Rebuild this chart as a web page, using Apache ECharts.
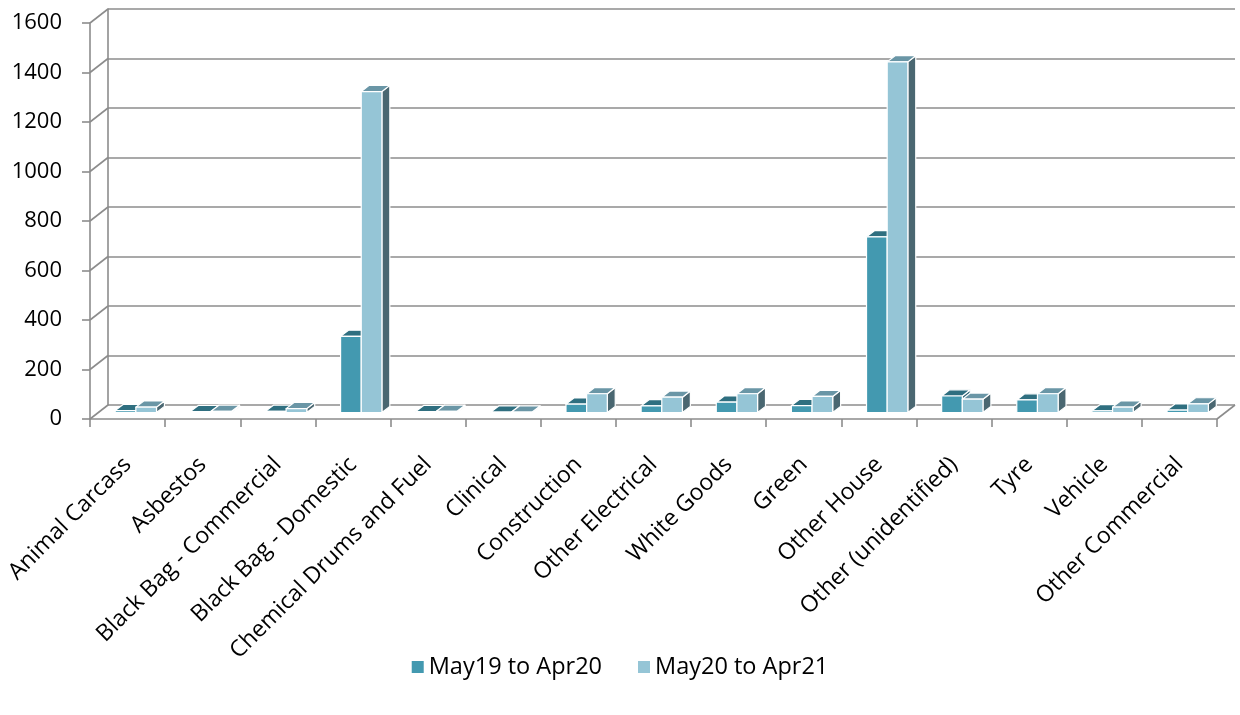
<!DOCTYPE html>
<html>
<head>
<meta charset="utf-8">
<script src="https://cdn.jsdelivr.net/npm/echarts@6/dist/echarts.min.js"></script>
<style>
  html, body { margin: 0; padding: 0; background: #ffffff; }
  #chart { width: 1240px; height: 715px; }
</style>
</head>
<body>
<div id="chart"></div>
<script>
// Fly-tipping incidents by waste type, two reporting years
var categories = ['Animal Carcass', 'Asbestos', 'Black Bag - Commercial', 'Black Bag - Domestic',
  'Chemical Drums and Fuel', 'Clinical', 'Construction', 'Other Electrical', 'White Goods',
  'Green', 'Other House', 'Other (unidentified)', 'Tyre', 'Vehicle', 'Other Commercial'];
var seriesNames = ['May19 to Apr20', 'May20 to Apr21'];
var may19ToApr20 = [8, 4, 5, 308, 4, 2, 34, 27, 42, 28, 710, 67, 51, 7, 10];
var may20ToApr21 = [22, 5, 16, 1297, 5, 2, 76, 62, 76, 65, 1417, 54, 76, 22, 35];
var yTicks = [0, 200, 400, 600, 800, 1000, 1200, 1400, 1600];

// Oblique projection: depth of the floor in pixels
var DX = 18, DY = 14;
var FRONT = { left: 90, top: 23, width: 1127, height: 396 };
var FONT = '"Open Sans", Lato, sans-serif';
var GREY = '#8c8c8c';

// face colours: front, top, side
var palette = [
  { front: '#4399b0', top: '#2f6f80', side: '#2b6272' },
  { front: '#95c5d6', top: '#6a96a6', side: '#4a6771' }
];

function barRenderer(seriesIndex) {
  return function (params, api) {
    var idx = api.value(0);
    var v = api.value(1);
    var band = api.size([1, 0])[0];
    var base = api.coord([idx, 0]);
    var top = api.coord([idx, v]);
    var h = base[1] - top[1];
    var F = 0.46, D = 0.44;
    var fx = F * DX, fy = F * DY;
    var ddx = D * DX, ddy = D * DY;
    var pairW = 0.55 * band;
    var barW = pairW / 2;
    var x0 = base[0] + fx - pairW / 2 + seriesIndex * barW;
    var x1 = x0 + barW;
    var yb = base[1] - fy;
    var yt = yb - h;
    var c = palette[seriesIndex];
    var stroke = { stroke: '#ffffff', lineWidth: 1.2, lineJoin: 'round' };
    return {
      type: 'group',
      children: [
        { type: 'polygon', shape: { points: [[x1, yt], [x1 + ddx, yt - ddy], [x1 + ddx, yb - ddy], [x1, yb]] },
          style: Object.assign({ fill: c.side }, stroke) },
        { type: 'polygon', shape: { points: [[x0, yt], [x1, yt], [x1 + ddx, yt - ddy], [x0 + ddx, yt - ddy]] },
          style: Object.assign({ fill: c.top }, stroke) },
        { type: 'rect', shape: { x: x0, y: yt, width: barW, height: h },
          style: Object.assign({ fill: c.front }, stroke) }
      ]
    };
  };
}

function frameRenderer(params, api) {
  var v = api.value(0);
  var band = api.size([1, 0])[0];
  var p = api.coord([0, v]);
  var xl = p[0] - band / 2;
  var children = [
    { type: 'line', shape: { x1: xl, y1: p[1], x2: xl + DX, y2: p[1] - DY },
      style: { stroke: GREY, lineWidth: 1.6 } }
  ];
  if (v === 0) {
    var q = api.coord([categories.length - 1, 0]);
    var xr = q[0] + band / 2;
    children.push({ type: 'line', shape: { x1: xr, y1: q[1], x2: xr + DX, y2: q[1] - DY },
      style: { stroke: GREY, lineWidth: 1.6 } });
  }
  return { type: 'group', children: children };
}

var chart = echarts.init(document.getElementById('chart'), null, { renderer: 'canvas' });

var option = {
  animation: false,
  backgroundColor: '#ffffff',
  textStyle: { fontFamily: FONT },
  grid: [
    { left: FRONT.left, top: FRONT.top, width: FRONT.width, height: FRONT.height, containLabel: false },
    { left: FRONT.left + DX, top: FRONT.top - DY, width: FRONT.width, height: FRONT.height, containLabel: false }
  ],
  xAxis: [
    {
      type: 'category', gridIndex: 0, data: categories,
      axisLine: { show: true, lineStyle: { color: GREY, width: 1.6 } },
      axisTick: { show: true, length: 8, lineStyle: { color: GREY, width: 1.6 } },
      axisLabel: { rotate: 45, margin: 42, interval: 0, color: '#000000', fontSize: 23, fontFamily: FONT },
      splitLine: { show: false }
    },
    {
      type: 'category', gridIndex: 1, data: categories,
      axisLine: { show: false }, axisTick: { show: false }, axisLabel: { show: false },
      splitLine: { show: false }
    }
  ],
  yAxis: [
    {
      type: 'value', gridIndex: 0, min: 0, max: 1600, interval: 200,
      axisLine: { show: true, lineStyle: { color: GREY, width: 1.6 } },
      axisTick: { show: true, length: 8, lineStyle: { color: GREY, width: 1.6 } },
      axisLabel: { margin: 28, color: '#000000', fontSize: 22, fontFamily: FONT,
        formatter: function (v) { return String(v); } },
      splitLine: { show: false }
    },
    {
      type: 'value', gridIndex: 1, min: 0, max: 1600, interval: 200,
      axisLine: { show: true, lineStyle: { color: GREY, width: 1.6 } },
      axisTick: { show: false }, axisLabel: { show: false },
      splitLine: { show: true, lineStyle: { color: GREY, width: 1.6 } }
    }
  ],
  legend: {
    bottom: 31, left: 'center',
    data: seriesNames,
    icon: 'rect', itemWidth: 12, itemHeight: 12, itemGap: 36,
    textStyle: { fontSize: 23.5, color: '#000000', fontFamily: FONT }
  },
  series: [
    {
      name: 'frame', type: 'custom', xAxisIndex: 0, yAxisIndex: 0, silent: true,
      renderItem: frameRenderer,
      data: yTicks.map(function (v) { return [v]; }),
      encode: { y: 0 }
    },
    {
      name: seriesNames[0], type: 'custom', xAxisIndex: 0, yAxisIndex: 0,
      itemStyle: { color: palette[0].front },
      renderItem: barRenderer(0),
      data: may19ToApr20.map(function (v, i) { return [i, v]; }),
      encode: { x: 0, y: 1 }
    },
    {
      name: seriesNames[1], type: 'custom', xAxisIndex: 0, yAxisIndex: 0,
      itemStyle: { color: palette[1].front },
      renderItem: barRenderer(1),
      data: may20ToApr21.map(function (v, i) { return [i, v]; }),
      encode: { x: 0, y: 1 }
    }
  ]
};

chart.setOption(option);
</script>
</body>
</html>
